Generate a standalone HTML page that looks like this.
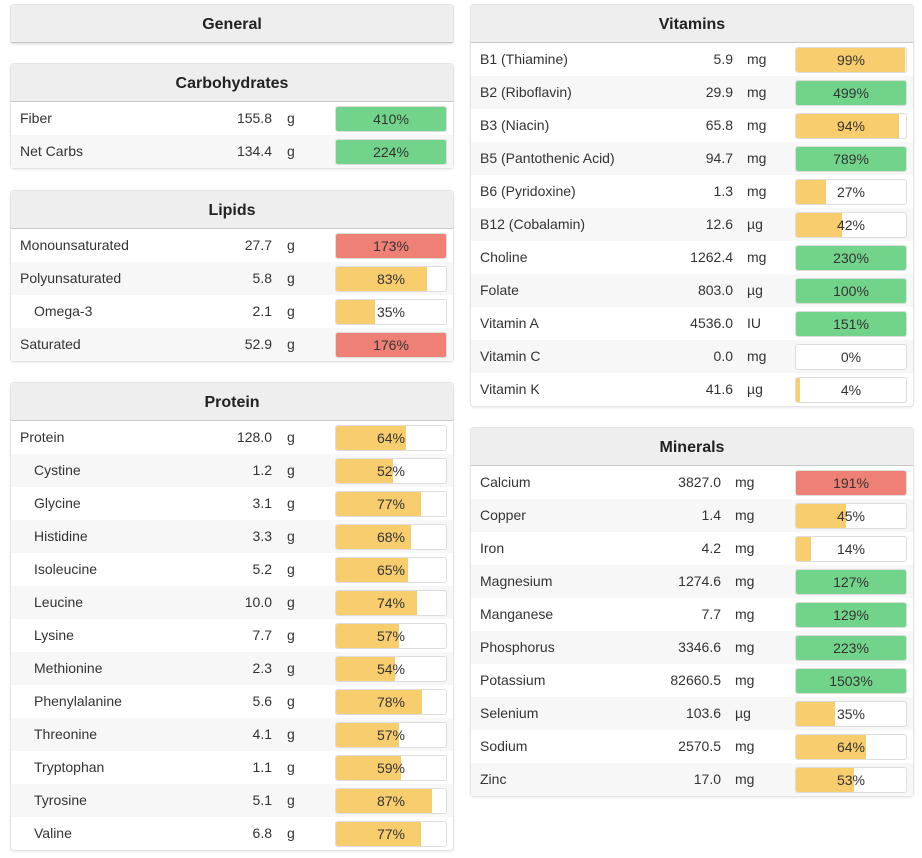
<!DOCTYPE html>
<html><head><meta charset="utf-8">
<style>
body{margin:0;width:922px;height:858px;background:#fff;font-family:"Liberation Sans",sans-serif;color:#333;position:relative;overflow:hidden}
.panel{position:absolute;border:1px solid #e4e4e4;border-radius:4px;background:#fff;box-shadow:0 1px 2px rgba(0,0,0,.08)}
.hdr{height:37px;background:#eee;border-bottom:1px solid #c8c8c8;text-align:center;font-weight:bold;font-size:16px;line-height:39px;color:#222;border-radius:4px 4px 0 0}
.row{position:relative;height:33px;font-size:14px;line-height:33px}
.row:nth-child(even){background:#f7f7f7}
.nm{position:absolute;left:9px}
.val{position:absolute;text-align:right}
.unit{position:absolute}
.bar{position:absolute;top:4px;height:24px;width:110px;border:1px solid #ddd;border-radius:3px;background:#fff;overflow:hidden}
.fill{position:absolute;left:0;top:0;bottom:0}
.pct{position:absolute;left:0;right:0;text-align:center;line-height:25px;font-size:14px}
</style></head><body>
<div id="root"></div>
<script>
const G='#72d38b',R='#ee8075',Y='#f8cd6e';
const carbNames=['Fiber','Net Carbs'];
const carbVals=['155.8','134.4'];const carbUnits=['g','g'];
const carbPct=[410,224];const carbCol=[G,G];
const lipNames=['Monounsaturated','Polyunsaturated','Omega-3','Saturated'];
const lipVals=['27.7','5.8','2.1','52.9'];const lipUnits=['g','g','g','g'];
const lipPct=[173,83,35,176];const lipCol=[R,Y,Y,R];const lipInd=[0,0,1,0];
const proNames=['Protein','Cystine','Glycine','Histidine','Isoleucine','Leucine','Lysine','Methionine','Phenylalanine','Threonine','Tryptophan','Tyrosine','Valine'];
const proVals=['128.0','1.2','3.1','3.3','5.2','10.0','7.7','2.3','5.6','4.1','1.1','5.1','6.8'];
const proPct=[64,52,77,68,65,74,57,54,78,57,59,87,77];
const vitNames=['B1 (Thiamine)','B2 (Riboflavin)','B3 (Niacin)','B5 (Pantothenic Acid)','B6 (Pyridoxine)','B12 (Cobalamin)','Choline','Folate','Vitamin A','Vitamin C','Vitamin K'];
const vitVals=['5.9','29.9','65.8','94.7','1.3','12.6','1262.4','803.0','4536.0','0.0','41.6'];
const vitUnits=['mg','mg','mg','mg','mg','µg','mg','µg','IU','mg','µg'];
const vitPct=[99,499,94,789,27,42,230,100,151,0,4];
const vitCol=[Y,G,Y,G,Y,Y,G,G,G,Y,Y];
const minNames=['Calcium','Copper','Iron','Magnesium','Manganese','Phosphorus','Potassium','Selenium','Sodium','Zinc'];
const minVals=['3827.0','1.4','4.2','1274.6','7.7','3346.6','82660.5','103.6','2570.5','17.0'];
const minUnits=['mg','mg','mg','mg','mg','mg','mg','µg','mg','mg'];
const minPct=[191,45,14,127,129,223,1503,35,64,53];
const minCol=[R,Y,Y,G,G,G,G,Y,Y,Y];
const root=document.getElementById('root');
function panel(title,x,y,w,names,vals,units,pct,cols,ind,valR,unitX){
  const p=document.createElement('div');p.className='panel';
  
  
  p.style.left=x+'px';p.style.top=y+'px';p.style.width=w+'px';
  const h=document.createElement('div');h.className='hdr';h.textContent=title;
  
  
  p.appendChild(h);
  const body=document.createElement('div');p.appendChild(body);
  (names||[]).forEach((n,i)=>{
    const r=document.createElement('div');r.className='row';
    
    
    const v=Math.min(pct[i],100);
    r.innerHTML='<span class="nm" style="left:'+(ind&&ind[i]?23:9)+'px">'+n+'</span>'+
      '<span class="val" style="right:'+(w-valR)+'px">'+vals[i]+'</span>'+
      '<span class="unit" style="left:'+unitX+'px">'+units[i]+'</span>'+
      '<div class="bar" style="left:'+(w-118)+'px"><div class="fill" style="width:'+v+'%;background:'+cols[i]+'"></div><div class="pct">'+pct[i]+'%</div></div>';
    r.querySelector('.bar');
    r.querySelector('.bar');
    body.appendChild(r);
  });
  root.appendChild(p);
}
panel('General',10,4,442);
panel('Carbohydrates',10,63,442,carbNames,carbVals,carbUnits,carbPct,carbCol,null,261,276);
panel('Lipids',10,190,442,lipNames,lipVals,lipUnits,lipPct,lipCol,lipInd,261,276);
panel('Protein',10,382,442,proNames,proVals,proNames.map(()=> 'g'),proPct,proNames.map(()=>Y),proNames.map((_,i)=>i?1:0),261,276);
panel('Vitamins',470,4,442,vitNames,vitVals,vitUnits,vitPct,vitCol,null,262,276);
panel('Minerals',470,427,442,minNames,minVals,minUnits,minPct,minCol,null,250,264);
</script>
</body></html>
